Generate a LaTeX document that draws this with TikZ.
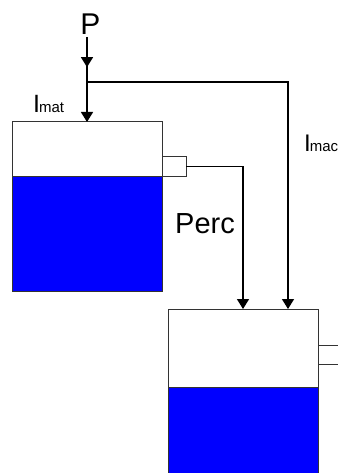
\documentclass[tikz,border=0pt]{standalone}
\usepackage{fontspec}
\setmainfont{Liberation Sans}
\usetikzlibrary{arrows.meta,decorations.markings}
\begin{document}
\begin{tikzpicture}[x=1pt,y=-1pt]
 % styles for tanks, outlets and flows
 \tikzset{tank/.style={draw=black!80,line width=1pt,minimum width=150pt,minimum height=169pt,inner sep=0pt,outer sep=0pt},
  outlet/.style={draw=black!80,line width=1pt,minimum width=24pt,minimum height=19pt,inner sep=0pt,outer sep=0pt},
  flow/.style={line width=1.5pt,-{Triangle[width=12pt,length=10pt]}},
  ->-/.style={decoration={markings, mark=at position #1 with {\arrow{Triangle[width=12pt,length=10pt]}}},postaction={decorate}}}
 \useasboundingbox (0,0) rectangle (337,473);

 %draw tanks with water
 \node[tank] (tankA) at (87,206.5) {};
 \draw[fill=blue,draw=black!80,line width=1pt] (12,176) rectangle (tankA.south east);
 \node[tank] (tankB) at (243,393.5) {};
 \draw[fill=blue,draw=black!80,line width=1pt] (168,387) rectangle (tankB.south east);

 %outlets
 \node[outlet] (outA) at (174,166.5) {};
 \node[outlet] (outB) at (330,354.5) {};

 %rain and split
 \node[inner sep=0pt,outer sep=2pt,anchor=base,font=\fontsize{30}{30}\selectfont] (P) at (90.5,35) {P};
 \coordinate (split) at (87,82);
 \draw[->-=0.67,line width=1.5pt] (P.south -| split) -- (split);

 %flows into tanks
 \draw[flow] (split) -- (tankA.north);
 \draw[flow] (split) -| ([xshift=45pt]tankB.north);
 \draw[flow] (outA.east) -| (tankB.north);

 %adding flow labels
 \node[inner sep=0pt,anchor=base west] (Imat) at (33,113) {\fontsize{25}{25}\selectfont I\kern-1pt\fontsize{15}{15}\selectfont mat};
 \node[inner sep=0pt,anchor=base west] (Imac) at (304,152) {\fontsize{24}{24}\selectfont I\kern-1pt\fontsize{15}{15}\selectfont mac};
 \node[inner sep=0pt,anchor=base west,font=\fontsize{29}{29}\selectfont] (Perc) at (175,233) {Perc};
\end{tikzpicture}
\end{document}
